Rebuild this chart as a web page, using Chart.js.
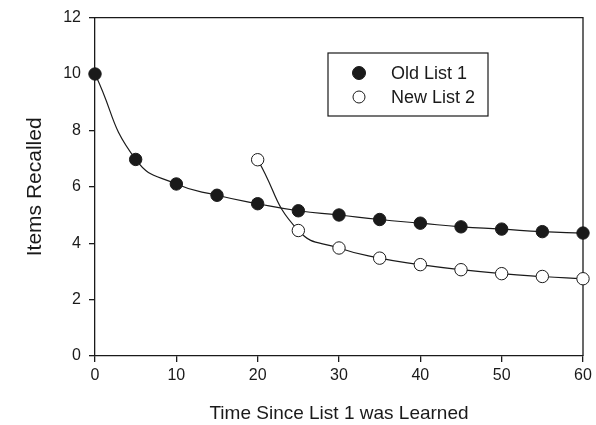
<!DOCTYPE html>
<html>
<head>
<meta charset="utf-8">
<script src="https://cdn.jsdelivr.net/npm/chart.js@4"></script>
<style>
  html, body { margin: 0; padding: 0; background: #fff; }
  #wrap { width: 596px; height: 425px; }
</style>
</head>
<body>
<div id="wrap"><canvas id="c" width="596" height="425"></canvas></div>
<script>
// ---- data ----
const oldTimes = [0, 5, 10, 15, 20, 25, 30, 35, 40, 45, 50, 55, 60];
const oldList  = [10, 6.97, 6.1, 5.7, 5.4, 5.15, 5.0, 4.84, 4.71, 4.58, 4.5, 4.41, 4.36];
const newTimes = [20, 25, 30, 35, 40, 45, 50, 55, 60];
const newList  = [6.96, 4.45, 3.83, 3.47, 3.24, 3.06, 2.92, 2.82, 2.74];
const xTicks = [0, 10, 20, 30, 40, 50, 60];
const yTicks = [0, 2, 4, 6, 8, 10, 12];
const seriesLabels = ['Old List 1', 'New List 2'];
const xTitle = 'Time Since List 1 was Learned';
const yTitle = 'Items Recalled';

const FONT = "'Liberation Sans', Arial, sans-serif";
const INK = '#1a1a1a';

const framePlugin = {
  id: 'frame',
  beforeDatasetsDraw(chart) {
    const {ctx, chartArea: a} = chart;
    ctx.save();
    ctx.strokeStyle = INK;
    ctx.lineWidth = 1.3;
    ctx.beginPath();
    ctx.moveTo(a.left, a.top);
    ctx.lineTo(a.right, a.top);
    ctx.lineTo(a.right, a.bottom);
    ctx.stroke();
    ctx.restore();
  }
};

const boxLegend = {
  id: 'boxLegend',
  afterDraw(chart) {
    const {ctx} = chart;
    const bx = 328, by = 53, bw = 160, bh = 63;
    ctx.save();
    ctx.fillStyle = '#fff';
    ctx.fillRect(bx, by, bw, bh);
    ctx.strokeStyle = INK;
    ctx.lineWidth = 1.2;
    ctx.strokeRect(bx, by, bw, bh);
    ctx.font = '18px ' + FONT;
    ctx.textBaseline = 'middle';
    ctx.textAlign = 'left';
    const rows = [by + 20, by + 44];
    const radii = [6.5, 6];
    chart.data.datasets.forEach((ds, i) => {
      const y = rows[i];
      ctx.beginPath();
      ctx.arc(bx + 31, y, radii[i], 0, Math.PI * 2);
      ctx.fillStyle = ds.pointBackgroundColor;
      ctx.fill();
      ctx.lineWidth = 1;
      ctx.strokeStyle = INK;
      ctx.stroke();
      ctx.fillStyle = INK;
      ctx.fillText(ds.label, bx + 63, y + 1);
    });
    ctx.restore();
  }
};

const seriesStyle = {
  borderColor: INK,
  borderWidth: 1.2,
  pointRadius: 6.2,
  pointBorderColor: INK,
  pointBorderWidth: 1,
  tension: 0.5,
  clip: false,
  fill: false
};

new Chart(document.getElementById('c'), {
  type: 'line',
  data: {
    datasets: [
      Object.assign({}, seriesStyle, {
        label: seriesLabels[0],
        data: oldTimes.map((t, i) => ({x: t, y: oldList[i]})),
        pointBackgroundColor: INK
      }),
      Object.assign({}, seriesStyle, {
        label: seriesLabels[1],
        data: newTimes.map((t, i) => ({x: t, y: newList[i]})),
        pointBackgroundColor: '#fff'
      })
    ]
  },
  options: {
    responsive: false,
    animation: false,
    devicePixelRatio: 1,
    layout: { padding: { top: 17, right: 13, left: 0, bottom: 0 } },
    plugins: { legend: { display: false }, tooltip: { enabled: false } },
    scales: {
      x: {
        type: 'linear',
        min: 0, max: 60,
        afterBuildTicks(s) { s.ticks = xTicks.map(v => ({value: v})); },
        afterFit(s) { s.height = 69; },
        grid: { display: true, drawOnChartArea: false, drawTicks: true, tickLength: 6, color: INK, lineWidth: 1.3 },
        border: { display: true, color: INK, width: 1.3 },
        ticks: { color: INK, font: { family: FONT, size: 16 }, padding: 4, maxRotation: 0 },
        title: { display: true, text: xTitle, color: INK, font: { family: FONT, size: 19 }, padding: { top: 0, bottom: 0 } }
      },
      y: {
        type: 'linear',
        min: 0, max: 12,
        afterBuildTicks(s) { s.ticks = yTicks.map(v => ({value: v})); },
        afterFit(s) { s.width = 95; },
        grid: { display: true, drawOnChartArea: false, drawTicks: true, tickLength: 6, color: INK, lineWidth: 1.3 },
        border: { display: true, color: INK, width: 1.3 },
        ticks: { color: INK, font: { family: FONT, size: 16 }, padding: 8 },
        title: { display: true, text: yTitle, color: INK, font: { family: FONT, size: 21 }, padding: { top: 23, bottom: 0 } }
      }
    }
  },
  plugins: [framePlugin, boxLegend]
});
</script>
</body>
</html>
